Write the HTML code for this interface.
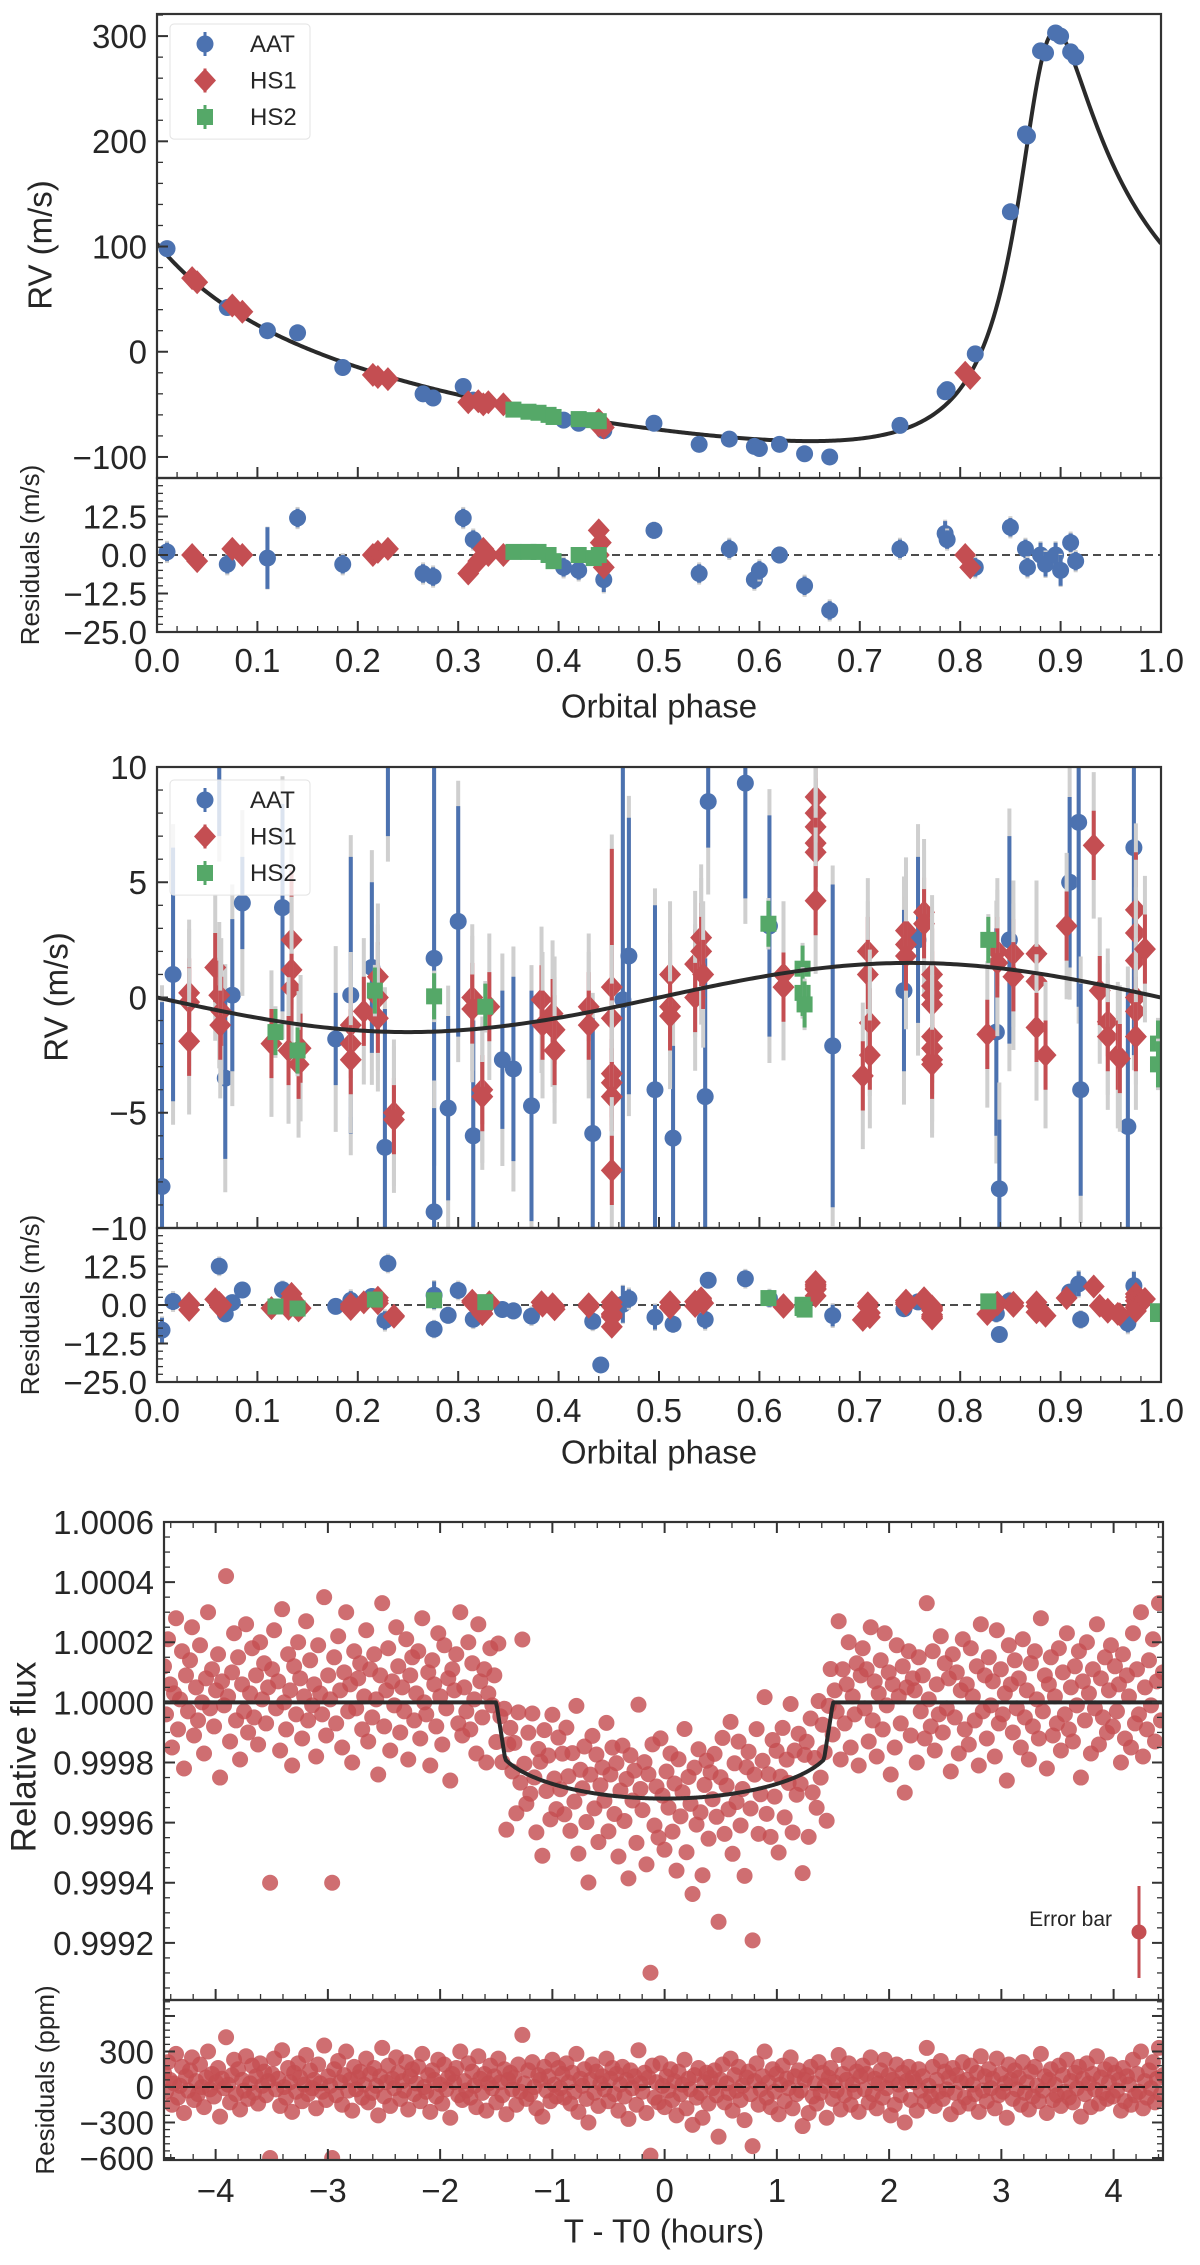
<!DOCTYPE html>
<html><head><meta charset="utf-8"><title>RV and transit fit</title>
<style>
html,body{margin:0;padding:0;background:#fff;}
svg{display:block;font-family:"Liberation Sans",Arial,sans-serif;}
text{fill:#262626;}
</style></head>
<body>
<svg id="fig" xmlns="http://www.w3.org/2000/svg" width="1200" height="2265" viewBox="0 0 1200 2265"></svg>
<script>
// ---------- Panel 1 data (full orbit RV) ----------
const aat1Phase=[0.01,0.07,0.11,0.14,0.185,0.265,0.275,0.305,0.315,0.405,0.42,0.445,0.495,0.54,0.57,0.595,0.60,0.62,0.645,0.67,0.74,0.785,0.787,0.815,0.85,0.865,0.867,0.88,0.885,0.895,0.90,0.91,0.915];
const aat1Rv=[98,42,20,18,-15,-40,-44,-33,-46,-65,-68,-75,-68,-88,-83,-90,-92,-88,-97,-100,-70,-38,-36,-2,133,207,205,286,284,303,300,285,280];
const aat1Res=[1,-3,-1,12,-3,-6,-7,12,5,-4,-5,-8,8,-6,2,-8,-5,0,-10,-18,2,7,5,-4,9,2,-4,0,-3,0,-5,4,-2];
const aat1Err=[3,3,10,3,3,3,3,3,3,3,3,4,2,3,3,3,3,2,3,3,3,4,3,3,3,3,3,4,4,4,5,3,3];
const hs11Phase=[0.035,0.04,0.075,0.085,0.215,0.22,0.23,0.31,0.32,0.325,0.33,0.345,0.44,0.44,0.445,0.442,0.805,0.81];
const hs11Rv=[70,66,44,38,-22,-24,-26,-48,-47,-50,-48,-50,-65,-70,-72,-68,-20,-25];
const hs11Res=[0,-2,2,0,0,1,2,-6,-2,2,0,0,8,0,-4,4,0,-4];
const hs12Phase=[0.355,0.37,0.38,0.39,0.395,0.42,0.435,0.44];
const hs12Rv=[-55,-57,-58,-60,-62,-64,-65,-66];
const hs12Res=[1,1,1,0,-2,0,-1,0];
// Keplerian model parameters (planet b)
const kepK=195, kepE=0.66, kepW=-0.545, kepPeak=0.895;

// ---------- Panel 2 data (second signal) ----------
const aat2Phase=[0.005,0.016,0.062,0.068,0.075,0.085,0.125,0.178,0.193,0.214,0.227,0.230,0.276,0.276,0.290,0.300,0.315,0.344,0.355,0.373,0.434,0.442,0.464,0.470,0.496,0.514,0.546,0.549,0.586,0.610,0.673,0.744,0.758,0.836,0.839,0.849,0.909,0.918,0.920,0.967,0.973];
const aat2Rv=[-8.2,1.0,12.0,-3.5,0.1,4.1,3.9,-1.8,0.1,1.3,-6.5,12.0,1.7,-9.3,-4.8,3.3,-6.0,-2.7,-3.1,-4.7,-5.9,-20,-0.1,1.8,-4.0,-6.1,-4.3,8.5,9.3,3.1,-2.1,0.3,2.5,-1.5,-8.3,2.5,5.0,7.6,-4.0,-5.6,6.5];
const aat2Err=[8,5.5,5,3.5,3.3,2,4.5,2,6,3.7,6,5,9,4.5,4,5,5,3,4,5,5,3,12,6,8,4,6,2,5,4.8,7,3.5,3.6,4.5,3,4.5,3.7,8,4.6,6,9];
const hs1Phase=[0.032,0.032,0.032,0.058,0.062,0.064,0.063,0.114,0.134,0.134,0.134,0.131,0.143,0.141,0.193,0.193,0.193,0.206,0.220,0.220,0.220,0.236,0.236,0.314,0.314,0.324,0.324,0.331,0.383,0.384,0.394,0.396,0.396,0.430,0.430,0.453,0.453,0.453,0.453,0.453,0.453,0.511,0.511,0.511,0.536,0.536,0.542,0.542,0.544,0.624,0.624,0.656,0.656,0.656,0.656,0.656,0.656,0.708,0.708,0.710,0.710,0.703,0.746,0.746,0.746,0.764,0.764,0.772,0.772,0.772,0.772,0.772,0.772,0.772,0.772,0.827,0.837,0.837,0.853,0.853,0.876,0.876,0.876,0.885,0.906,0.933,0.939,0.947,0.947,0.957,0.959,0.975,0.975,0.975,0.975,0.975,0.975,0.984];
const hs1Rv=[0.2,-0.2,-1.9,1.3,0.1,-0.6,-1.2,-2.0,2.5,1.2,0.4,-2.3,-2.2,-2.9,-1.2,-2.0,-2.7,-0.6,0.9,0.0,-0.9,-5.0,-5.3,0.0,-0.5,-4.0,-4.3,-0.4,-0.1,-1.2,-0.7,-1.4,-2.3,-0.4,-1.2,0.45,-0.9,-3.3,-3.7,-4.3,-7.5,1.0,-0.4,-0.8,1.45,0.0,2.6,2.0,1.0,1.0,0.45,8.7,8.0,7.4,6.7,6.3,4.2,2.0,1.0,-1.1,-2.5,-3.4,2.9,2.3,1.8,3.7,3.2,1.0,0.5,0.1,-0.3,-1.7,-2.2,-2.7,-2.9,-1.6,2.0,1.5,1.9,0.9,1.9,0.7,-1.3,-2.5,3.1,6.6,0.3,-1.05,-1.7,-2.5,-2.65,3.8,2.8,1.6,0.0,-0.6,-1.7,2.1];
const hs1Err=[1.5,1.5,1.5,1.5,1.5,1.5,1.5,1.5,3,1.5,1.5,1.5,1.5,1.5,1.5,1.5,1.5,1.5,1.5,1.5,1.5,1.5,1.5,1.5,1.5,1.5,1.5,1.5,1.5,1.5,1.5,1.5,1.5,1.5,1.5,6,1.5,1.5,1.5,1.5,1.5,1.5,1.5,1.5,1.5,1.5,1.5,1.5,1.5,1.5,1.5,1.5,1.5,1.5,1.5,1.5,1.5,1.5,1.5,1.5,1.5,1.5,1.5,1.5,1.5,1.5,1.5,2,1.5,1.5,1.5,1.5,1.5,1.5,1.5,1.5,1.5,1.5,1.5,1.5,1.5,1.5,1.5,1.5,1.5,1.5,1.5,1.5,1.5,1.5,1.5,2.5,1.5,1.5,1.5,1.5,1.5,1.5];
const hs2Phase=[0.118,0.140,0.217,0.276,0.327,0.609,0.643,0.643,0.645,0.828,0.997,0.997];
const hs2Rv=[-1.5,-2.3,0.3,0.05,-0.4,3.2,1.25,0.2,-0.3,2.5,-2.0,-2.9];
const hs2Err=[1,1,1,1,1,1,1,1,1,1,1,1];
const sineAmp=1.5;

// ---------- Panel 3 data (transit, residuals in ppm) ----------
const transitRes=[120,-40,210,60,-150,30,280,-90,10,170,-220,90,-30,140,250,-110,50,-60,190,0,-170,80,300,-20,110,
-80,40,160,-250,70,-10,420,20,-130,100,230,-60,150,-190,60,-30,260,-100,30,180,-50,90,-140,200,10,
130,-70,50,-600,110,240,-20,70,-160,310,0,-90,160,40,-210,120,-40,200,80,-120,20,270,-60,140,-10,
60,-180,190,30,-40,350,-110,90,10,-600,150,-70,220,40,-150,100,300,-30,60,-200,170,-20,80,130,-90,
20,240,-130,110,-50,160,10,-240,90,330,-80,40,180,-160,70,-10,250,120,-100,50,-30,210,-190,90,150,
-60,30,170,-120,280,0,-40,100,-210,140,60,-80,230,20,-140,190,-20,80,-260,110,40,160,-70,300,-110,
50,-30,200,-90,130,10,-170,260,70,-50,110,-200,30,180,-10,90,-130,240,40,-70,150,-230,60,120,-20,
80,-150,190,-40,440,30,-100,140,-60,210,0,-180,100,60,-250,170,-30,90,-120,230,20,-80,160,-10,110,
-90,200,40,-140,120,-40,280,-210,70,10,150,-100,-300,60,190,-50,130,-160,30,90,-20,240,-120,70,160,
-60,110,-200,20,170,-80,60,-270,140,-10,90,-150,310,30,-40,120,-220,80,-580,180,-90,40,-130,200,10,
-170,90,-30,150,-110,50,-240,130,-60,20,230,-180,70,-20,-320,100,-90,160,-50,-260,40,120,-140,80,-10,
140,-70,-420,60,190,-130,30,-50,240,-200,100,-30,170,-110,10,-280,80,130,-60,-500,50,200,-150,-20,90,
300,-90,40,-170,150,-40,110,-230,20,180,-120,70,-10,250,-180,90,-60,140,-30,-330,60,100,-220,170,-80,
30,-140,210,-50,120,10,-260,80,160,-100,40,-30,270,-190,110,-70,60,200,-150,20,-40,130,-210,90,180,
-20,110,-130,250,-60,70,-180,30,140,-90,230,-10,100,-240,60,-150,190,20,-70,120,-300,50,170,-110,80,
40,-200,150,-30,90,-120,330,10,-80,170,-160,60,-40,220,-100,130,-20,80,-230,160,-50,100,-170,40,210,
-90,60,-140,180,20,-60,120,-210,260,-30,90,-120,150,-10,70,-180,240,-70,110,-40,30,-260,190,60,-100,
140,-20,80,-150,210,-50,40,-190,130,-80,170,10,-120,280,-30,90,-220,60,150,-110,20,-70,180,-160,100,
-40,230,-90,50,-130,120,-10,170,-250,70,-60,200,30,-170,110,-20,260,-140,80,-50,150,-100,40,190,-80,
120,-30,60,-200,160,-120,90,20,-150,230,-70,110,-40,300,-180,50,-90,140,-10,210,-130,70,330,-60,100];
const timeStart=-4.46, timeEnd=4.44;
const transitDepth=0.00032, transitT14=1.5, transitT23=1.42, limbU=0.6;

// ---------- helpers ----------
const NS='http://www.w3.org/2000/svg';
const svg=document.getElementById('fig');
const BLUE='#4c72b0', RED='#c44e52', GREEN='#55a868', GRAY='#cfcfcf', INK='#262626';
function mk(tag,attrs,parent){const e=document.createElementNS(NS,tag);for(const k in attrs)e.setAttribute(k,attrs[k]);(parent||svg).appendChild(e);return e;}
function lin(d0,d1,r0,r1){return v=>r0+(v-d0)/(d1-d0)*(r1-r0);}
let clipN=0;
function makePanel(box,xlim,ylim){
  const g=mk('g',{});
  const id='clip'+(clipN++);
  const cp=mk('clipPath',{id:id},g);
  mk('rect',{x:box.x0,y:box.y0,width:box.x1-box.x0,height:box.y1-box.y0},cp);
  const inner=mk('g',{'clip-path':'url(#'+id+')'},g);
  return {g:g,inner:inner,box:box,X:lin(xlim[0],xlim[1],box.x0,box.x1),Y:lin(ylim[0],ylim[1],box.y1,box.y0),xlim:xlim,ylim:ylim};
}
function frame(p,opts){
  const b=p.box,g=p.g;
  const fr=mk('rect',{x:b.x0,y:b.y0,width:b.x1-b.x0,height:b.y1-b.y0,fill:'none',stroke:'#333',"stroke-width":2.2},g);
  
  
  const eps=1e-9;
  const yMaxLab=(opts.yLabelMax!==undefined)?opts.yLabelMax:Infinity;
  for(let v=Math.ceil(p.xlim[0]/opts.xMinor-eps)*opts.xMinor; v<=p.xlim[1]+eps; v+=opts.xMinor){
    const isMaj=Math.abs(v/opts.xMajor-Math.round(v/opts.xMajor))<1e-6;
    const L=isMaj?11:6, x=p.X(v);
    mk('line',{x1:x,x2:x,y1:b.y1,y2:b.y1-L,stroke:'#333','stroke-width':isMaj?2:1.3},g);
    if(opts.topTicks) mk('line',{x1:x,x2:x,y1:b.y0,y2:b.y0+L,stroke:'#333','stroke-width':isMaj?2:1.3},g);
    if(isMaj && opts.xLabels){
      const lab=Math.abs(v)<1e-9?opts.xFmt(0):opts.xFmt(v);
      const t=mk('text',{x:x,y:b.y1+opts.xLabelDy,'text-anchor':'middle','font-size':opts.tickFs},g);
      t.textContent=lab;
      
      
    }
  }
  for(let v=Math.ceil(p.ylim[0]/opts.yMinor-eps)*opts.yMinor; v<=p.ylim[1]+eps; v+=opts.yMinor){
    const isMaj=Math.abs(v/opts.yMajor-Math.round(v/opts.yMajor))<1e-6;
    const L=isMaj?11:6, y=p.Y(v);
    mk('line',{x1:b.x0,x2:b.x0+L,y1:y,y2:y,stroke:'#333','stroke-width':isMaj?2:1.3},g);
    if(opts.rightTicks) mk('line',{x1:b.x1,x2:b.x1-L,y1:y,y2:y,stroke:'#333','stroke-width':isMaj?2:1.3},g);
    if(isMaj && v<=yMaxLab+1e-9){
      const lab=opts.yFmt(Math.abs(v)<1e-12?0:v);
      const t=mk('text',{x:b.x0-10,y:y+opts.tickFs*0.36,'text-anchor':'end','font-size':opts.tickFs},g);
      t.textContent=lab;
      
      
    }
  }
}
function fmtMinus(s){return s.replace('-','\u2212');}
function label(txt,x,y,fs,rot,name){
  const t=mk('text',{x:x,y:y,'text-anchor':'middle','font-size':fs,'dominant-baseline':'central',transform:rot?('rotate(-90 '+x+' '+y+')'):''});
  t.textContent=txt;
  
  
}
function marker(parent,kind,x,y,color){
  let m;
  if(kind==='o') m=mk('circle',{cx:x,cy:y,r:8.5,fill:color},parent);
  else if(kind==='D') m=mk('polygon',{points:(x)+','+(y-12)+' '+(x+11)+','+y+' '+x+','+(y+12)+' '+(x-11)+','+y,fill:color},parent);
  else m=mk('rect',{x:x-8,y:y-8,width:16,height:16,fill:color},parent);
  return m;
}
function errpt(p,kind,color,ph,val,err,jit,name){
  const x=p.X(ph), y=p.Y(val);
  const tot=Math.sqrt(err*err+jit*jit);
  const g=mk('g',{},p.inner);
  
  
  mk('line',{x1:x,x2:x,y1:p.Y(val-tot),y2:p.Y(val+tot),stroke:GRAY,'stroke-width':4},g);
  mk('line',{x1:x,x2:x,y1:p.Y(val-err),y2:p.Y(val+err),stroke:color,'stroke-width':4},g);
  marker(g,kind,x,y,color);
}
function zeroLine(p){
  const l=mk('line',{x1:p.box.x0,x2:p.box.x1,y1:p.Y(0),y2:p.Y(0),stroke:'#111','stroke-width':1.6,'stroke-dasharray':'8,5'},p.inner);
  
  
}
function legend(x,y,name){
  const g=mk('g',{});
  
  
  mk('rect',{x:x,y:y,width:140,height:84*1.37,rx:4,fill:'rgba(255,255,255,0.8)',stroke:'#e3e3e3','stroke-width':1},g);
  const items=[['AAT','o',BLUE],['HS1','D',RED],['HS2','s',GREEN]];
  items.forEach((it,i)=>{
    const cy=y+20+i*36.5, cx=x+35;
    const e=mk('g',{},g);
    
    
    mk('line',{x1:cx,x2:cx,y1:cy-12,y2:cy+12,stroke:it[2],'stroke-width':3},e);
    marker(e,it[1],cx,cy,it[2]);
    const t=mk('text',{x:x+80,y:cy+8,'font-size':24},e);
    t.textContent=it[0];
  });
}
function path(p,xs,ys,name){
  let d='';
  for(let i=0;i<xs.length;i++) d+=(i?'L':'M')+p.X(xs[i]).toFixed(2)+','+p.Y(ys[i]).toFixed(2);
  const el=mk('path',{d:d,fill:'none',stroke:'#2a2a2a','stroke-width':4,'stroke-linejoin':'round'},p.inner);
  
  
}

// ---------- models ----------
function kepler(ph){
  const e=kepE;
  const nuP=-kepW;
  const EP=2*Math.atan(Math.sqrt((1-e)/(1+e))*Math.tan(nuP/2));
  const MP=EP-e*Math.sin(EP);
  let M=2*Math.PI*(ph-kepPeak)+MP;
  M=((M%(2*Math.PI))+3*Math.PI)%(2*Math.PI)-Math.PI;
  let E=M;
  for(let k=0;k<60;k++){E=E-(E-e*Math.sin(E)-M)/(1-e*Math.cos(E));}
  const nu=2*Math.atan(Math.sqrt((1+e)/(1-e))*Math.tan(E/2));
  return kepK*(Math.cos(nu+kepW)+e*Math.cos(kepW));
}
function sine(ph){return -sineAmp*Math.sin(2*Math.PI*ph);}
function transit(t){
  const a=Math.abs(t);
  const inner=tt=>1-transitDepth*(1-limbU*(1-Math.sqrt(Math.max(0,1-(tt/transitT14)**2))));
  if(a>=transitT14) return 1;
  if(a>transitT23){const f23=inner(transitT23);return f23+(1-f23)*(a-transitT23)/(transitT14-transitT23);}
  return inner(a);
}

// ---------- Panel 1 ----------
const p1=makePanel({x0:157,x1:1161,y0:14,y1:478},[0,1],[-120,321]);
const p1r=makePanel({x0:157,x1:1161,y0:478,y1:632},[0,1],[-25,25]);
{
  const xs=[],ys=[];for(let i=0;i<=600;i++){const ph=i/600;xs.push(ph);ys.push(kepler(ph));}
  path(p1,xs,ys,'keplerian-model-curve');
  aat1Phase.forEach((ph,i)=>errpt(p1,'o',BLUE,ph,aat1Rv[i],aat1Err[i]*0.4,1,'aat-point'));
  hs11Phase.forEach((ph,i)=>errpt(p1,'D',RED,ph,hs11Rv[i],1,0.5,'hs1-point'));
  hs12Phase.forEach((ph,i)=>errpt(p1,'s',GREEN,ph,hs12Rv[i],1,0.5,'hs2-point'));
  zeroLine(p1r);
  aat1Phase.forEach((ph,i)=>errpt(p1r,'o',BLUE,ph,aat1Res[i],aat1Err[i],2,'aat-residual'));
  hs11Phase.forEach((ph,i)=>errpt(p1r,'D',RED,ph,hs11Res[i],1.5,1,'hs1-residual'));
  hs12Phase.forEach((ph,i)=>errpt(p1r,'s',GREEN,ph,hs12Res[i],1,0.5,'hs2-residual'));
  frame(p1,{xMajor:0.1,xMinor:0.02,yMajor:100,yMinor:20,tickFs:33,xLabels:false,yFmt:v=>fmtMinus(String(Math.round(v)))});
  frame(p1r,{xMajor:0.1,xMinor:0.02,yMajor:12.5,yMinor:2.5,tickFs:33,xLabels:true,xLabelDy:40,yLabelMax:12.5,xFmt:v=>v.toFixed(1),yFmt:v=>fmtMinus(v.toFixed(1))});
  legend(170,24,'legend-top');
  label('RV (m/s)',40,245,33,true,'y-axis-title-rv');
  label('Residuals (m/s)',30,555,26,true,'y-axis-title-residuals');
  label('Orbital phase',659,706,33,false,'x-axis-title-phase');
}

// ---------- Panel 2 ----------
const p2=makePanel({x0:157,x1:1161,y0:767,y1:1228},[0,1],[-10,10]);
const p2r=makePanel({x0:157,x1:1161,y0:1228,y1:1382},[0,1],[-25,25]);
{
  const xs=[],ys=[];for(let i=0;i<=300;i++){const ph=i/300;xs.push(ph);ys.push(sine(ph));}
  aat2Phase.forEach((ph,i)=>errpt(p2,'o',BLUE,ph,aat2Rv[i],aat2Err[i],3.5,'aat-point'));
  hs1Phase.forEach((ph,i)=>errpt(p2,'D',RED,ph,hs1Rv[i],hs1Err[i],2.8,'hs1-point'));
  hs2Phase.forEach((ph,i)=>errpt(p2,'s',GREEN,ph,hs2Rv[i],hs2Err[i],0.5,'hs2-point'));
  path(p2,xs,ys,'sinusoid-model-curve');
  zeroLine(p2r);
  aat2Phase.forEach((ph,i)=>errpt(p2r,'o',BLUE,ph,aat2Rv[i]-sine(ph),aat2Err[i]*0.5,2,'aat-residual'));
  hs1Phase.forEach((ph,i)=>errpt(p2r,'D',RED,ph,hs1Rv[i]-sine(ph),hs1Err[i]*0.5,0.5,'hs1-residual'));
  hs2Phase.forEach((ph,i)=>errpt(p2r,'s',GREEN,ph,hs2Rv[i]-sine(ph),hs2Err[i],0.5,'hs2-residual'));
  frame(p2,{xMajor:0.1,xMinor:0.02,yMajor:5,yMinor:1,tickFs:33,xLabels:false,yFmt:v=>fmtMinus(String(Math.round(v)))});
  frame(p2r,{xMajor:0.1,xMinor:0.02,yMajor:12.5,yMinor:2.5,tickFs:33,xLabels:true,xLabelDy:40,yLabelMax:12.5,xFmt:v=>v.toFixed(1),yFmt:v=>fmtMinus(v.toFixed(1))});
  legend(170,780,'legend-middle');
  label('RV (m/s)',56,997,33,true,'y-axis-title-rv-2');
  label('Residuals (m/s)',30,1305,26,true,'y-axis-title-residuals-2');
  label('Orbital phase',659,1452,33,false,'x-axis-title-phase-2');
}

// ---------- Panel 3 ----------
const p3=makePanel({x0:164,x1:1163,y0:1522,y1:2000},[-4.46,4.44],[0.99901,1.0006]);
const p3r=makePanel({x0:164,x1:1163,y0:2000,y1:2160},[-4.46,4.44],[-617,735]);
{
  const n=transitRes.length;
  const times=transitRes.map((_,i)=>timeStart+(timeEnd-timeStart)*i/(n-1));
  const dg=mk('g',{},p3.inner);
  
  
  times.forEach((t,i)=>{
    const c=mk('circle',{cx:p3.X(t),cy:p3.Y(transit(t)+transitRes[i]*1e-6),r:8,fill:RED,'fill-opacity':0.82},dg);
    
    
  });
  const xs=[],ys=[];for(let i=0;i<=900;i++){const t=-4.46+8.9*i/900;xs.push(t);ys.push(transit(t));}
  path(p3,xs,ys,'transit-model-curve');
  const rg=mk('g',{},p3r.inner);
  
  
  times.forEach((t,i)=>{
    const c=mk('circle',{cx:p3r.X(t),cy:p3r.Y(transitRes[i]),r:8,fill:RED,'fill-opacity':0.82},rg);
    
    
  });
  const zl=mk('line',{x1:164,x2:1163,y1:p3r.Y(0),y2:p3r.Y(0),stroke:'#111','stroke-width':1.8,'stroke-dasharray':'12,7'},p3r.inner);
  
  
  frame(p3,{xMajor:1,xMinor:0.2,yMajor:0.0002,yMinor:0.00005,tickFs:33,xLabels:false,topTicks:true,rightTicks:true,yFmt:v=>v.toFixed(4)});
  frame(p3r,{xMajor:1,xMinor:0.2,yMajor:300,yMinor:60,tickFs:33,xLabels:true,rightTicks:true,xLabelDy:42,yLabelMax:300,xFmt:v=>fmtMinus(String(Math.round(v))),yFmt:v=>fmtMinus(String(Math.round(v)))});
  const eb=mk('g',{});
  
  
  mk('line',{x1:1139,x2:1139,y1:1886,y2:1978,stroke:RED,'stroke-width':3},eb);
  mk('circle',{cx:1139,cy:1932,r:7.5,fill:RED},eb);
  const et=mk('text',{x:1112,y:1926,'text-anchor':'end','font-size':21},eb);
  et.textContent='Error bar';
  label('Relative flux',24,1757,35,true,'y-axis-title-flux');
  label('Residuals (ppm)',45,2080,26,true,'y-axis-title-residuals-ppm');
  label('T - T0 (hours)',664,2231,33,false,'x-axis-title-time');
}
</script>
</body></html>
